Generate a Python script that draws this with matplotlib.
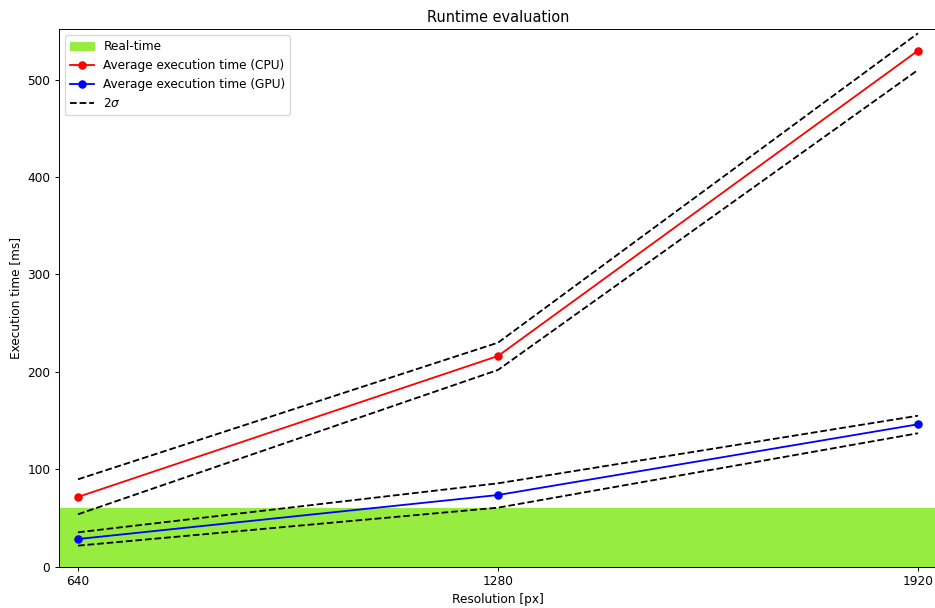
import numpy as np
import matplotlib
matplotlib.use('Agg')
import matplotlib.pyplot as plt

# resolution [px]
res = [640, 1280, 1920]
# average execution time [ms]
cpu_mean = [71.6, 216.3, 529.8]
cpu_upper = [89.7, 230.0, 547.6]
cpu_lower = [53.8, 202.0, 510.0]
gpu_mean = [28.4, 73.6, 146.2]
gpu_upper = [35.3, 85.6, 155.0]
gpu_lower = [21.6, 60.6, 137.0]
realtime_limit = 60

DPI = 87
fig = plt.figure(figsize=(935/DPI, 608/DPI), dpi=DPI)
ax = fig.add_axes([58.7/935, 41.3/608, (937.3-58.7)/935, (566.7-29.3)/608])

ax.axhspan(0, realtime_limit, color='#97ec40', label='Real-time')
ax.plot(res, cpu_mean, 'o-', color='red', label='Average execution time (CPU)')
ax.plot(res, gpu_mean, 'o-', color='blue', label='Average execution time (GPU)')
ax.plot(res, cpu_upper, '--', color='black', label=r'$2\sigma$')
ax.plot(res, cpu_lower, '--', color='black')
ax.plot(res, gpu_upper, '--', color='black')
ax.plot(res, gpu_lower, '--', color='black')

ax.set_xticks(res)
ax.set_xlim(610.6, 1949.4)
ax.set_ylim(0, 551.7)
ax.set_title('Runtime evaluation')
ax.set_xlabel('Resolution [px]')
ax.set_ylabel('Execution time [ms]')
ax.legend(loc='upper left')

plt.savefig('out.png', dpi=DPI)
